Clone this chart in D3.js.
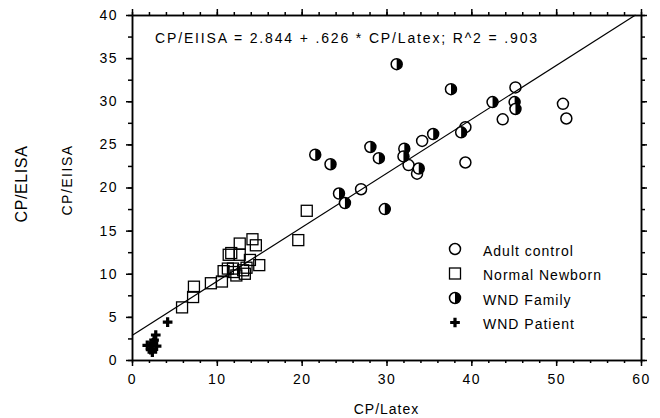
<!DOCTYPE html>
<html>
<head>
<meta charset="utf-8">
<script src="https://cdn.jsdelivr.net/npm/d3@7"></script>
<style>
  body { margin: 0; background: #fff; }
  text { font-family: "Liberation Sans", Arial, sans-serif; fill: #000; }
</style>
</head>
<body>
<div id="plot"></div>
<script>
let svgWidth = 660;
let svgHeight = 418;
let margin = { top: 15, right: 19, bottom: 58, left: 132 };
let w = svgWidth - margin.left - margin.right;
let h = svgHeight - margin.top - margin.bottom;

// values, [CP/Latex, CP/ELISA]
let adultControl = [
    [45.2, 31.6], [43.7, 27.9], [39.3, 27.0], [34.2, 25.4], [32.6, 22.6],
    [33.6, 21.6], [27.0, 19.8], [39.3, 22.9], [50.8, 29.7], [51.2, 28.0]
];
let normalNewborn = [
    [5.9, 6.1], [7.2, 7.3], [7.3, 8.5], [9.3, 8.9], [10.6, 9.1], [10.8, 10.3],
    [11.3, 10.6], [11.4, 12.2], [11.7, 12.4], [11.9, 10.6], [12.0, 10.2],
    [12.3, 9.8], [12.7, 12.2], [12.7, 13.5], [13.1, 10.4], [13.3, 10.0],
    [13.5, 10.7], [13.9, 11.6], [14.2, 14.0], [14.6, 13.3], [15.0, 11.0],
    [19.6, 13.9], [20.6, 17.3]
];
let wndFamily = [
    [31.2, 34.3], [37.6, 31.4], [42.5, 29.9], [45.1, 29.9], [45.2, 29.1],
    [35.5, 26.2], [38.8, 26.4], [28.1, 24.7], [32.1, 24.5], [32.0, 23.6],
    [21.6, 23.8], [23.4, 22.7], [29.1, 23.4], [33.8, 22.2], [24.4, 19.3],
    [25.1, 18.2], [29.8, 17.5]
];
let wndPatient = [
    [4.2, 4.4], [2.8, 2.9], [2.6, 2.3], [1.8, 1.7], [2.3, 1.6],
    [2.9, 1.6], [2.2, 1.2], [2.4, 0.9], [2.5, 2.0]
];

let intercept = 2.844;
let slope = 0.626;
let equationText = 'CP/EIISA = 2.844 + .626 * CP/Latex; R^2 = .903';

let xMajor = [0, 10, 20, 30, 40, 50, 60];
let xMinor = d3.range(0, 61, 2);
let yMajor = [0, 5, 10, 15, 20, 25, 30, 35, 40];
let yMinor = d3.range(0, 40.1, 2.5);

let legendLabels = ['Adult control', 'Normal Newborn', 'WND Family', 'WND Patient'];

let svg = d3.select('#plot')
    .append('svg')
        .attr('width', svgWidth)
        .attr('height', svgHeight);

let chart = svg.append('g')
    .attr('transform', `translate(${margin.left},${margin.top})`);

let x = d3.scaleLinear().domain([0, 60]).range([0, w]);
let y = d3.scaleLinear().domain([0, 40]).range([h, 0]);

function styleAxis(g) {
    g.selectAll('path, line').attr('stroke', '#000').attr('stroke-width', 1.5);
    g.selectAll('text')
        .style('font-size', '14px')
        .style('letter-spacing', '1.5px')
        .attr('fill', '#000');
}

// minor ticks first, then major ticks with labels
chart.append('g').attr('transform', `translate(0,${h})`)
    .call(d3.axisBottom(x).tickValues(xMinor).tickSize(3).tickSizeOuter(0).tickFormat(''))
    .call(styleAxis);
chart.append('g').attr('transform', `translate(0,${h})`)
    .call(d3.axisBottom(x).tickValues(xMajor).tickSize(6).tickSizeOuter(0).tickPadding(8))
    .call(styleAxis);
chart.append('g')
    .call(d3.axisTop(x).tickValues(xMinor).tickSize(3).tickSizeOuter(0).tickFormat(''))
    .call(styleAxis);
chart.append('g')
    .call(d3.axisTop(x).tickValues(xMajor).tickSize(6).tickSizeOuter(0).tickFormat(''))
    .call(styleAxis);

chart.append('g')
    .call(d3.axisLeft(y).tickValues(yMinor).tickSize(4).tickSizeOuter(0).tickFormat(''))
    .call(styleAxis);
chart.append('g')
    .call(d3.axisLeft(y).tickValues(yMajor).tickSize(6).tickSizeOuter(0).tickPadding(8))
    .call(styleAxis);
chart.append('g').attr('transform', `translate(${w},0)`)
    .call(d3.axisRight(y).tickValues(yMinor).tickSize(4).tickSizeOuter(0).tickFormat(''))
    .call(styleAxis);
chart.append('g').attr('transform', `translate(${w},0)`)
    .call(d3.axisRight(y).tickValues(yMajor).tickSize(6).tickSizeOuter(0).tickFormat(''))
    .call(styleAxis);

// regression line, clipped at the top of the frame
let xEnd = (40 - intercept) / slope;
chart.append('line')
    .attr('x1', x(0)).attr('y1', y(intercept))
    .attr('x2', x(xEnd)).attr('y2', y(intercept + slope * xEnd))
    .attr('stroke', '#000')
    .attr('stroke-width', 1.2);

let r = 5.5;
let halfArc = d3.arc().innerRadius(0).outerRadius(r).startAngle(0).endAngle(Math.PI);
let cross = d3.symbol().type(d3.symbolCross).size(52);

function drawCircle(g) {
    g.append('circle').attr('r', r).attr('fill', 'none')
        .attr('stroke', '#000').attr('stroke-width', 1.5);
}
function drawSquare(g) {
    g.append('rect').attr('x', -5.5).attr('y', -5.5).attr('width', 11).attr('height', 11)
        .attr('fill', 'none').attr('stroke', '#000').attr('stroke-width', 1.3);
}
function drawHalf(g) {
    g.append('circle').attr('r', r).attr('fill', '#fff')
        .attr('stroke', '#000').attr('stroke-width', 1.5);
    g.append('path').attr('d', halfArc()).attr('fill', '#000');
}
function drawCross(g) {
    g.append('path').attr('d', cross()).attr('fill', '#000');
}

let groups = [
    { data: adultControl, draw: drawCircle },
    { data: normalNewborn, draw: drawSquare },
    { data: wndFamily, draw: drawHalf },
    { data: wndPatient, draw: drawCross }
];

groups.forEach(function(s) {
    chart.append('g')
        .selectAll('g')
        .data(s.data)
        .join('g')
            .attr('transform', d => `translate(${x(d[0])},${y(d[1])})`)
            .each(function() { s.draw(d3.select(this)); });
});

// equation
chart.append('text')
    .attr('x', 23)
    .attr('y', 28)
    .style('font-size', '14px')
    .style('letter-spacing', '1.85px')
    .text(equationText);

// legend
let legend = chart.append('g')
    .attr('transform', `translate(${455 - margin.left},${251 - margin.top})`);

legend.selectAll('g')
    .data(legendLabels)
    .join('g')
        .attr('transform', (d, i) => `translate(0,${i * 24.5})`)
        .each(function(d, i) {
            let g = d3.select(this);
            groups[i].draw(g.append('g').attr('transform', 'translate(0,-2)'));
            g.append('text')
                .attr('x', 28)
                .attr('dy', '0.35em')
                .style('font-size', '14px')
                .style('letter-spacing', '1px')
                .text(d);
        });

// axis titles
svg.append('text')
    .attr('x', margin.left + w / 2)
    .attr('y', 414)
    .attr('text-anchor', 'middle')
    .style('font-size', '14px')
    .style('letter-spacing', '1px')
    .text('CP/Latex');

svg.append('text')
    .attr('transform', 'translate(27,184) rotate(-90)')
    .attr('text-anchor', 'middle')
    .style('font-size', '16px')
    .style('letter-spacing', '0.6px')
    .text('CP/ELISA');

svg.append('text')
    .attr('transform', 'translate(72,180) rotate(-90)')
    .attr('text-anchor', 'middle')
    .style('font-size', '14px')
    .style('letter-spacing', '1.5px')
    .text('CP/EIISA');
</script>
</body>
</html>
